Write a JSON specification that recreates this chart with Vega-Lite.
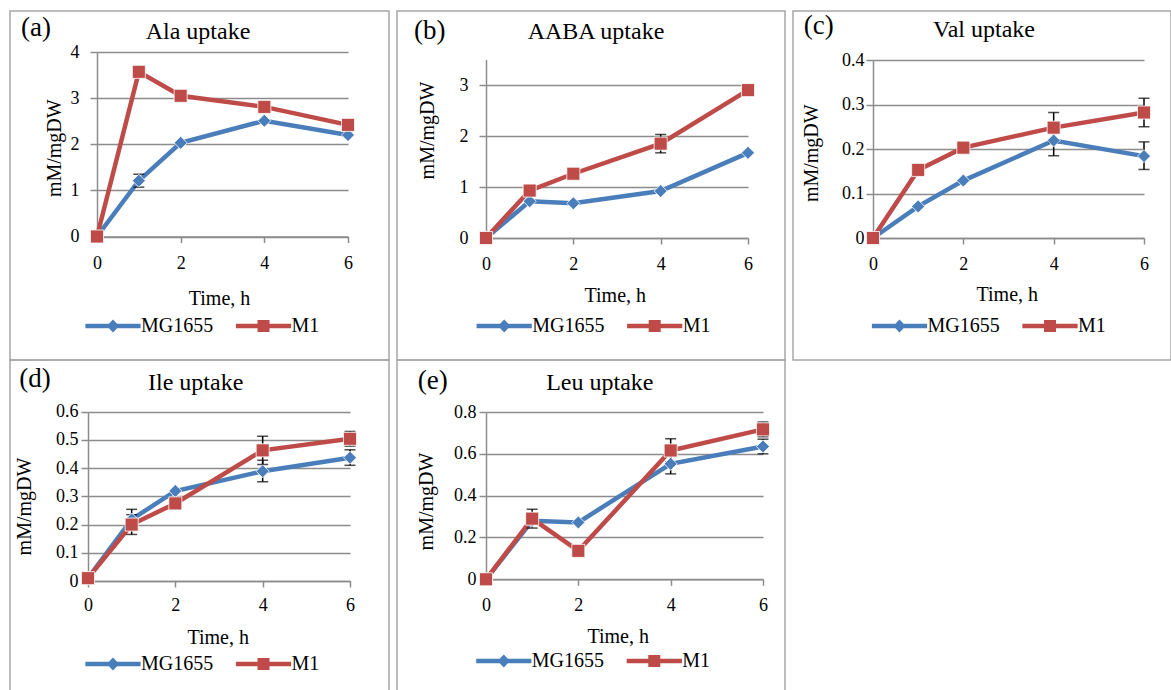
{
  "$schema": "https://vega.github.io/schema/vega-lite/v6.json",
  "padding": {"left": 9, "top": 10, "right": 0, "bottom": 0},
  "autosize": {"type": "pad"},
  "background": "white",
  "datasets": {
    "uptake": [
      {"panel": "a", "series": "MG1655", "t": 0, "v": 0},
      {"panel": "a", "series": "MG1655", "t": 1, "v": 1.21, "lo": 1.07, "hi": 1.35},
      {"panel": "a", "series": "MG1655", "t": 2, "v": 2.03},
      {"panel": "a", "series": "MG1655", "t": 4, "v": 2.51},
      {"panel": "a", "series": "MG1655", "t": 6, "v": 2.2},
      {"panel": "a", "series": "M1", "t": 0, "v": 0},
      {"panel": "a", "series": "M1", "t": 1, "v": 3.57, "lo": 3.48, "hi": 3.66},
      {"panel": "a", "series": "M1", "t": 2, "v": 3.05},
      {"panel": "a", "series": "M1", "t": 4, "v": 2.81},
      {"panel": "a", "series": "M1", "t": 6, "v": 2.42},
      {"panel": "b", "series": "MG1655", "t": 0, "v": 0},
      {"panel": "b", "series": "MG1655", "t": 1, "v": 0.72},
      {"panel": "b", "series": "MG1655", "t": 2, "v": 0.68},
      {"panel": "b", "series": "MG1655", "t": 4, "v": 0.92},
      {"panel": "b", "series": "MG1655", "t": 6, "v": 1.67},
      {"panel": "b", "series": "M1", "t": 0, "v": 0},
      {"panel": "b", "series": "M1", "t": 1, "v": 0.93},
      {"panel": "b", "series": "M1", "t": 2, "v": 1.26},
      {"panel": "b", "series": "M1", "t": 4, "v": 1.85, "lo": 1.67, "hi": 2.03},
      {"panel": "b", "series": "M1", "t": 6, "v": 2.9},
      {"panel": "c", "series": "MG1655", "t": 0, "v": 0},
      {"panel": "c", "series": "MG1655", "t": 1, "v": 0.071},
      {"panel": "c", "series": "MG1655", "t": 2, "v": 0.129},
      {"panel": "c", "series": "MG1655", "t": 4, "v": 0.219, "lo": 0.185, "hi": 0.253},
      {"panel": "c", "series": "MG1655", "t": 6, "v": 0.184, "lo": 0.154, "hi": 0.216},
      {"panel": "c", "series": "M1", "t": 0, "v": 0},
      {"panel": "c", "series": "M1", "t": 1, "v": 0.153},
      {"panel": "c", "series": "M1", "t": 2, "v": 0.203},
      {"panel": "c", "series": "M1", "t": 4, "v": 0.248, "lo": 0.214, "hi": 0.282},
      {"panel": "c", "series": "M1", "t": 6, "v": 0.282, "lo": 0.25, "hi": 0.314},
      {"panel": "d", "series": "MG1655", "t": 0, "v": 0.01},
      {"panel": "d", "series": "MG1655", "t": 1, "v": 0.218, "lo": 0.182, "hi": 0.254},
      {"panel": "d", "series": "MG1655", "t": 2, "v": 0.319},
      {"panel": "d", "series": "MG1655", "t": 4, "v": 0.389, "lo": 0.352, "hi": 0.428},
      {"panel": "d", "series": "MG1655", "t": 6, "v": 0.437, "lo": 0.41, "hi": 0.465},
      {"panel": "d", "series": "M1", "t": 0, "v": 0.01},
      {"panel": "d", "series": "M1", "t": 1, "v": 0.2, "lo": 0.165, "hi": 0.235},
      {"panel": "d", "series": "M1", "t": 2, "v": 0.275},
      {"panel": "d", "series": "M1", "t": 4, "v": 0.463, "lo": 0.413, "hi": 0.513},
      {"panel": "d", "series": "M1", "t": 6, "v": 0.504, "lo": 0.478, "hi": 0.53},
      {"panel": "e", "series": "MG1655", "t": 0, "v": 0},
      {"panel": "e", "series": "MG1655", "t": 1, "v": 0.28},
      {"panel": "e", "series": "MG1655", "t": 2, "v": 0.272},
      {"panel": "e", "series": "MG1655", "t": 4, "v": 0.552, "lo": 0.504, "hi": 0.6},
      {"panel": "e", "series": "MG1655", "t": 6, "v": 0.635, "lo": 0.6, "hi": 0.67},
      {"panel": "e", "series": "M1", "t": 0, "v": 0},
      {"panel": "e", "series": "M1", "t": 1, "v": 0.29, "lo": 0.245, "hi": 0.335},
      {"panel": "e", "series": "M1", "t": 2, "v": 0.136},
      {"panel": "e", "series": "M1", "t": 4, "v": 0.616, "lo": 0.56, "hi": 0.672},
      {"panel": "e", "series": "M1", "t": 6, "v": 0.717, "lo": 0.682, "hi": 0.752}
    ]
  },
  "data": {"name": "uptake"},
  "columns": 3,
  "align": "each",
  "bounds": "flush",
  "spacing": {"row": 0, "column": 8},
  "resolve": {"scale": {"color": "independent", "shape": "independent"}, "legend": {"color": "independent", "shape": "independent"}},
  "concat": [
    {
      "width": 379, "height": 349,
      "title": {"text": "(a)", "dx": 11, "offset": -31.4},
      "transform": [{"filter": "datum.panel === 'a'"}],
      "resolve": {"axis": {"x": "independent"}},
      "layer": [
        {"mark": {"type": "line", "strokeWidth": 4.5}, "encoding": {
          "x": {"field": "t", "type": "quantitative", "scale": {"domain": [0, 6], "range": [87, 338], "nice": false, "zero": false}, "axis": {"values": [0, 2, 4, 6], "title": "Time, h", "offset": -123.5, "titleX": 209, "titleY": 61.5, "labelPadding": 12}},
          "y": {"field": "v", "type": "quantitative", "title": "mM/mgDW", "scale": {"domain": [0, 4], "range": [225.5, 41], "nice": false, "zero": false}, "axis": {"values": [0, 1, 2, 3, 4], "format": "~g", "title": "mM/mgDW", "offset": -87, "titleX": -42.7, "titleY": 136.7, "labelPadding": 11}},
          "color": {"field": "series", "type": "nominal", "scale": {"domain": ["MG1655", "M1"], "range": ["#4a7ebb", "#be4b48"]}}}},
        {"transform": [{"filter": "isValid(datum.lo)"}], "mark": {"type": "rule", "color": "#000", "strokeWidth": 1.5}, "encoding": {"x": {"field": "t", "type": "quantitative", "axis": null}, "y": {"field": "lo", "type": "quantitative", "title": "mM/mgDW"}, "y2": {"field": "hi"}}},
        {"transform": [{"filter": "isValid(datum.lo)"}], "mark": {"type": "tick", "orient": "horizontal", "color": "#000", "size": 11, "thickness": 1.5}, "encoding": {"x": {"field": "t", "type": "quantitative", "axis": null}, "y": {"field": "lo", "type": "quantitative", "title": "mM/mgDW"}}},
        {"transform": [{"filter": "isValid(datum.lo)"}], "mark": {"type": "tick", "orient": "horizontal", "color": "#000", "size": 11, "thickness": 1.5}, "encoding": {"x": {"field": "t", "type": "quantitative", "axis": null}, "y": {"field": "hi", "type": "quantitative", "title": "mM/mgDW"}}},
        {"transform": [{"filter": "datum.series === 'MG1655'"}], "mark": {"type": "point", "shape": "diamond", "filled": true, "opacity": 1, "size": 170, "stroke": "#ffffff", "strokeWidth": 0.8}, "encoding": {
          "x": {"field": "t", "type": "quantitative", "axis": {"orient": "top", "title": "Ala uptake", "labels": false, "ticks": false, "domain": false, "grid": false, "titleX": 187.5, "titleY": 27.7, "titleBaseline": "alphabetic", "titleAlign": "center", "titleAngle": 0, "titleFontSize": 24}},
          "y": {"field": "v", "type": "quantitative", "title": "mM/mgDW"},
          "color": {"field": "series", "type": "nominal"}}},
        {"transform": [{"filter": "datum.series === 'M1'"}], "mark": {"type": "point", "shape": "square", "filled": true, "opacity": 1, "size": 170, "stroke": "#ffffff", "strokeWidth": 0.8}, "encoding": {
          "x": {"field": "t", "type": "quantitative", "axis": null},
          "y": {"field": "v", "type": "quantitative", "title": "mM/mgDW"},
          "color": {"field": "series", "type": "nominal"}}},
        {"transform": [{"filter": "false"}], "mark": {"type": "point", "filled": true, "opacity": 1, "size": 144}, "encoding": {
          "x": {"field": "t", "type": "quantitative", "axis": null},
          "y": {"field": "v", "type": "quantitative", "title": "mM/mgDW"},
          "color": {"field": "series", "type": "nominal", "legend": {"orient": "none", "legendX": 93, "legendY": 305, "direction": "horizontal", "title": null}},
          "shape": {"field": "series", "type": "nominal", "scale": {"domain": ["MG1655", "M1"], "range": ["M-4.6,-0.36H4.6V0.36H-4.6Z M0,-1.1L1.05,0L0,1.1L-1.05,0Z", "M-4.6,-0.36H4.6V0.36H-4.6Z M-1,-1H1V1H-1Z"]}, "legend": {"orient": "none", "legendX": 93, "legendY": 305, "direction": "horizontal", "title": null}}}}
      ]
    },
    {
      "width": 388, "height": 349,
      "title": {"text": "(b)", "dx": 17, "offset": -33.9},
      "transform": [{"filter": "datum.panel === 'b'"}],
      "resolve": {"axis": {"x": "independent"}},
      "layer": [
        {"mark": {"type": "line", "strokeWidth": 4.5}, "encoding": {
          "x": {"field": "t", "type": "quantitative", "scale": {"domain": [0, 6], "range": [89, 351], "nice": false, "zero": false}, "axis": {"values": [0, 2, 4, 6], "title": "Time, h", "offset": -122, "titleX": 217.8, "titleY": 57.3, "labelPadding": 11}},
          "y": {"field": "v", "type": "quantitative", "title": "mM/mgDW", "scale": {"domain": [0, 3.5], "range": [227, 48.5], "nice": false, "zero": false}, "axis": {"values": [0, 1, 2, 3], "format": "~g", "title": "mM/mgDW", "offset": -89, "titleX": -58.3, "titleY": 119, "labelPadding": 11}},
          "color": {"field": "series", "type": "nominal", "scale": {"domain": ["MG1655", "M1"], "range": ["#4a7ebb", "#be4b48"]}}}},
        {"transform": [{"filter": "isValid(datum.lo)"}], "mark": {"type": "rule", "color": "#000", "strokeWidth": 1.5}, "encoding": {"x": {"field": "t", "type": "quantitative", "axis": null}, "y": {"field": "lo", "type": "quantitative", "title": "mM/mgDW"}, "y2": {"field": "hi"}}},
        {"transform": [{"filter": "isValid(datum.lo)"}], "mark": {"type": "tick", "orient": "horizontal", "color": "#000", "size": 11, "thickness": 1.5}, "encoding": {"x": {"field": "t", "type": "quantitative", "axis": null}, "y": {"field": "lo", "type": "quantitative", "title": "mM/mgDW"}}},
        {"transform": [{"filter": "isValid(datum.lo)"}], "mark": {"type": "tick", "orient": "horizontal", "color": "#000", "size": 11, "thickness": 1.5}, "encoding": {"x": {"field": "t", "type": "quantitative", "axis": null}, "y": {"field": "hi", "type": "quantitative", "title": "mM/mgDW"}}},
        {"transform": [{"filter": "datum.series === 'MG1655'"}], "mark": {"type": "point", "shape": "diamond", "filled": true, "opacity": 1, "size": 170, "stroke": "#ffffff", "strokeWidth": 0.8}, "encoding": {
          "x": {"field": "t", "type": "quantitative", "axis": {"orient": "top", "title": "AABA uptake", "labels": false, "ticks": false, "domain": false, "grid": false, "titleX": 198.5, "titleY": 27.3, "titleBaseline": "alphabetic", "titleAlign": "center", "titleAngle": 0, "titleFontSize": 24}},
          "y": {"field": "v", "type": "quantitative", "title": "mM/mgDW"},
          "color": {"field": "series", "type": "nominal"}}},
        {"transform": [{"filter": "datum.series === 'M1'"}], "mark": {"type": "point", "shape": "square", "filled": true, "opacity": 1, "size": 170, "stroke": "#ffffff", "strokeWidth": 0.8}, "encoding": {
          "x": {"field": "t", "type": "quantitative", "axis": null},
          "y": {"field": "v", "type": "quantitative", "title": "mM/mgDW"},
          "color": {"field": "series", "type": "nominal"}}},
        {"transform": [{"filter": "false"}], "mark": {"type": "point", "filled": true, "opacity": 1, "size": 144}, "encoding": {
          "x": {"field": "t", "type": "quantitative", "axis": null},
          "y": {"field": "v", "type": "quantitative", "title": "mM/mgDW"},
          "color": {"field": "series", "type": "nominal", "legend": {"orient": "none", "legendX": 97.2, "legendY": 305, "direction": "horizontal", "title": null}},
          "shape": {"field": "series", "type": "nominal", "scale": {"domain": ["MG1655", "M1"], "range": ["M-4.6,-0.36H4.6V0.36H-4.6Z M0,-1.1L1.05,0L0,1.1L-1.05,0Z", "M-4.6,-0.36H4.6V0.36H-4.6Z M-1,-1H1V1H-1Z"]}, "legend": {"orient": "none", "legendX": 97.2, "legendY": 305, "direction": "horizontal", "title": null}}}}
      ]
    },
    {
      "width": 378, "height": 349,
      "title": {"text": "(c)", "dx": 10.7, "offset": -28.9},
      "transform": [{"filter": "datum.panel === 'c'"}],
      "resolve": {"axis": {"x": "independent"}},
      "layer": [
        {"mark": {"type": "line", "strokeWidth": 4.5}, "encoding": {
          "x": {"field": "t", "type": "quantitative", "scale": {"domain": [0, 6], "range": [80, 351], "nice": false, "zero": false}, "axis": {"values": [0, 2, 4, 6], "title": "Time, h", "offset": -122, "titleX": 213.8, "titleY": 56.3, "labelPadding": 11}},
          "y": {"field": "v", "type": "quantitative", "title": "mM/mgDW", "scale": {"domain": [0, 0.4], "range": [227, 49], "nice": false, "zero": false}, "axis": {"values": [0, 0.1, 0.2, 0.3, 0.4], "format": "~g", "title": "mM/mgDW", "offset": -80, "titleX": -62, "titleY": 141.7, "labelPadding": 2}},
          "color": {"field": "series", "type": "nominal", "scale": {"domain": ["MG1655", "M1"], "range": ["#4a7ebb", "#be4b48"]}}}},
        {"transform": [{"filter": "isValid(datum.lo)"}], "mark": {"type": "rule", "color": "#000", "strokeWidth": 1.5}, "encoding": {"x": {"field": "t", "type": "quantitative", "axis": null}, "y": {"field": "lo", "type": "quantitative", "title": "mM/mgDW"}, "y2": {"field": "hi"}}},
        {"transform": [{"filter": "isValid(datum.lo)"}], "mark": {"type": "tick", "orient": "horizontal", "color": "#000", "size": 11, "thickness": 1.5}, "encoding": {"x": {"field": "t", "type": "quantitative", "axis": null}, "y": {"field": "lo", "type": "quantitative", "title": "mM/mgDW"}}},
        {"transform": [{"filter": "isValid(datum.lo)"}], "mark": {"type": "tick", "orient": "horizontal", "color": "#000", "size": 11, "thickness": 1.5}, "encoding": {"x": {"field": "t", "type": "quantitative", "axis": null}, "y": {"field": "hi", "type": "quantitative", "title": "mM/mgDW"}}},
        {"transform": [{"filter": "datum.series === 'MG1655'"}], "mark": {"type": "point", "shape": "diamond", "filled": true, "opacity": 1, "size": 170, "stroke": "#ffffff", "strokeWidth": 0.8}, "encoding": {
          "x": {"field": "t", "type": "quantitative", "axis": {"orient": "top", "title": "Val uptake", "labels": false, "ticks": false, "domain": false, "grid": false, "titleX": 190.5, "titleY": 25, "titleBaseline": "alphabetic", "titleAlign": "center", "titleAngle": 0, "titleFontSize": 24}},
          "y": {"field": "v", "type": "quantitative", "title": "mM/mgDW"},
          "color": {"field": "series", "type": "nominal"}}},
        {"transform": [{"filter": "datum.series === 'M1'"}], "mark": {"type": "point", "shape": "square", "filled": true, "opacity": 1, "size": 170, "stroke": "#ffffff", "strokeWidth": 0.8}, "encoding": {
          "x": {"field": "t", "type": "quantitative", "axis": null},
          "y": {"field": "v", "type": "quantitative", "title": "mM/mgDW"},
          "color": {"field": "series", "type": "nominal"}}},
        {"transform": [{"filter": "false"}], "mark": {"type": "point", "filled": true, "opacity": 1, "size": 144}, "encoding": {
          "x": {"field": "t", "type": "quantitative", "axis": null},
          "y": {"field": "v", "type": "quantitative", "title": "mM/mgDW"},
          "color": {"field": "series", "type": "nominal", "legend": {"orient": "none", "legendX": 96.5, "legendY": 305, "direction": "horizontal", "title": null}},
          "shape": {"field": "series", "type": "nominal", "scale": {"domain": ["MG1655", "M1"], "range": ["M-4.6,-0.36H4.6V0.36H-4.6Z M0,-1.1L1.05,0L0,1.1L-1.05,0Z", "M-4.6,-0.36H4.6V0.36H-4.6Z M-1,-1H1V1H-1Z"]}, "legend": {"orient": "none", "legendX": 96.5, "legendY": 305, "direction": "horizontal", "title": null}}}}
      ]
    },
    {
      "width": 379, "height": 345,
      "title": {"text": "(d)", "dx": 9.3, "offset": -33.2},
      "transform": [{"filter": "datum.panel === 'd'"}],
      "resolve": {"axis": {"x": "independent"}},
      "layer": [
        {"mark": {"type": "line", "strokeWidth": 4.5}, "encoding": {
          "x": {"field": "t", "type": "quantitative", "scale": {"domain": [0, 6], "range": [78, 340], "nice": false, "zero": false}, "axis": {"values": [0, 2, 4, 6], "title": "Time, h", "offset": -124, "titleX": 207.7, "titleY": 56.7, "labelPadding": 9}},
          "y": {"field": "v", "type": "quantitative", "title": "mM/mgDW", "scale": {"domain": [0, 0.6], "range": [221, 51.7], "nice": false, "zero": false}, "axis": {"values": [0, 0.1, 0.2, 0.3, 0.4, 0.5, 0.6], "format": "~g", "title": "mM/mgDW", "offset": -78, "titleX": -63.7, "titleY": 146, "labelPadding": 3}},
          "color": {"field": "series", "type": "nominal", "scale": {"domain": ["MG1655", "M1"], "range": ["#4a7ebb", "#be4b48"]}}}},
        {"transform": [{"filter": "isValid(datum.lo)"}], "mark": {"type": "rule", "color": "#000", "strokeWidth": 1.5}, "encoding": {"x": {"field": "t", "type": "quantitative", "axis": null}, "y": {"field": "lo", "type": "quantitative", "title": "mM/mgDW"}, "y2": {"field": "hi"}}},
        {"transform": [{"filter": "isValid(datum.lo)"}], "mark": {"type": "tick", "orient": "horizontal", "color": "#000", "size": 11, "thickness": 1.5}, "encoding": {"x": {"field": "t", "type": "quantitative", "axis": null}, "y": {"field": "lo", "type": "quantitative", "title": "mM/mgDW"}}},
        {"transform": [{"filter": "isValid(datum.lo)"}], "mark": {"type": "tick", "orient": "horizontal", "color": "#000", "size": 11, "thickness": 1.5}, "encoding": {"x": {"field": "t", "type": "quantitative", "axis": null}, "y": {"field": "hi", "type": "quantitative", "title": "mM/mgDW"}}},
        {"transform": [{"filter": "datum.series === 'MG1655'"}], "mark": {"type": "point", "shape": "diamond", "filled": true, "opacity": 1, "size": 170, "stroke": "#ffffff", "strokeWidth": 0.8}, "encoding": {
          "x": {"field": "t", "type": "quantitative", "axis": {"orient": "top", "title": "Ile uptake", "labels": false, "ticks": false, "domain": false, "grid": false, "titleX": 185.2, "titleY": 29.3, "titleBaseline": "alphabetic", "titleAlign": "center", "titleAngle": 0, "titleFontSize": 24}},
          "y": {"field": "v", "type": "quantitative", "title": "mM/mgDW"},
          "color": {"field": "series", "type": "nominal"}}},
        {"transform": [{"filter": "datum.series === 'M1'"}], "mark": {"type": "point", "shape": "square", "filled": true, "opacity": 1, "size": 170, "stroke": "#ffffff", "strokeWidth": 0.8}, "encoding": {
          "x": {"field": "t", "type": "quantitative", "axis": null},
          "y": {"field": "v", "type": "quantitative", "title": "mM/mgDW"},
          "color": {"field": "series", "type": "nominal"}}},
        {"transform": [{"filter": "false"}], "mark": {"type": "point", "filled": true, "opacity": 1, "size": 144}, "encoding": {
          "x": {"field": "t", "type": "quantitative", "axis": null},
          "y": {"field": "v", "type": "quantitative", "title": "mM/mgDW"},
          "color": {"field": "series", "type": "nominal", "legend": {"orient": "none", "legendX": 93, "legendY": 294, "direction": "horizontal", "title": null}},
          "shape": {"field": "series", "type": "nominal", "scale": {"domain": ["MG1655", "M1"], "range": ["M-4.6,-0.36H4.6V0.36H-4.6Z M0,-1.1L1.05,0L0,1.1L-1.05,0Z", "M-4.6,-0.36H4.6V0.36H-4.6Z M-1,-1H1V1H-1Z"]}, "legend": {"orient": "none", "legendX": 93, "legendY": 294, "direction": "horizontal", "title": null}}}}
      ]
    },
    {
      "width": 388, "height": 345,
      "title": {"text": "(e)", "dx": 20.7, "offset": -34.7},
      "transform": [{"filter": "datum.panel === 'e'"}],
      "resolve": {"axis": {"x": "independent"}},
      "layer": [
        {"mark": {"type": "line", "strokeWidth": 4.5}, "encoding": {
          "x": {"field": "t", "type": "quantitative", "scale": {"domain": [0, 6], "range": [89, 366], "nice": false, "zero": false}, "axis": {"values": [0, 2, 4, 6], "title": "Time, h", "offset": -125.7, "titleX": 220.7, "titleY": 56.7, "labelPadding": 11}},
          "y": {"field": "v", "type": "quantitative", "title": "mM/mgDW", "scale": {"domain": [0, 0.8], "range": [219.3, 52], "nice": false, "zero": false}, "axis": {"values": [0, 0.2, 0.4, 0.6, 0.8], "format": "~g", "title": "mM/mgDW", "offset": -89, "titleX": -60, "titleY": 141, "labelPadding": 3}},
          "color": {"field": "series", "type": "nominal", "scale": {"domain": ["MG1655", "M1"], "range": ["#4a7ebb", "#be4b48"]}}}},
        {"transform": [{"filter": "isValid(datum.lo)"}], "mark": {"type": "rule", "color": "#000", "strokeWidth": 1.5}, "encoding": {"x": {"field": "t", "type": "quantitative", "axis": null}, "y": {"field": "lo", "type": "quantitative", "title": "mM/mgDW"}, "y2": {"field": "hi"}}},
        {"transform": [{"filter": "isValid(datum.lo)"}], "mark": {"type": "tick", "orient": "horizontal", "color": "#000", "size": 11, "thickness": 1.5}, "encoding": {"x": {"field": "t", "type": "quantitative", "axis": null}, "y": {"field": "lo", "type": "quantitative", "title": "mM/mgDW"}}},
        {"transform": [{"filter": "isValid(datum.lo)"}], "mark": {"type": "tick", "orient": "horizontal", "color": "#000", "size": 11, "thickness": 1.5}, "encoding": {"x": {"field": "t", "type": "quantitative", "axis": null}, "y": {"field": "hi", "type": "quantitative", "title": "mM/mgDW"}}},
        {"transform": [{"filter": "datum.series === 'MG1655'"}], "mark": {"type": "point", "shape": "diamond", "filled": true, "opacity": 1, "size": 170, "stroke": "#ffffff", "strokeWidth": 0.8}, "encoding": {
          "x": {"field": "t", "type": "quantitative", "axis": {"orient": "top", "title": "Leu uptake", "labels": false, "ticks": false, "domain": false, "grid": false, "titleX": 202.3, "titleY": 29.3, "titleBaseline": "alphabetic", "titleAlign": "center", "titleAngle": 0, "titleFontSize": 24}},
          "y": {"field": "v", "type": "quantitative", "title": "mM/mgDW"},
          "color": {"field": "series", "type": "nominal"}}},
        {"transform": [{"filter": "datum.series === 'M1'"}], "mark": {"type": "point", "shape": "square", "filled": true, "opacity": 1, "size": 170, "stroke": "#ffffff", "strokeWidth": 0.8}, "encoding": {
          "x": {"field": "t", "type": "quantitative", "axis": null},
          "y": {"field": "v", "type": "quantitative", "title": "mM/mgDW"},
          "color": {"field": "series", "type": "nominal"}}},
        {"transform": [{"filter": "false"}], "mark": {"type": "point", "filled": true, "opacity": 1, "size": 144}, "encoding": {
          "x": {"field": "t", "type": "quantitative", "axis": null},
          "y": {"field": "v", "type": "quantitative", "title": "mM/mgDW"},
          "color": {"field": "series", "type": "nominal", "legend": {"orient": "none", "legendX": 96.8, "legendY": 291, "direction": "horizontal", "title": null}},
          "shape": {"field": "series", "type": "nominal", "scale": {"domain": ["MG1655", "M1"], "range": ["M-4.6,-0.36H4.6V0.36H-4.6Z M0,-1.1L1.05,0L0,1.1L-1.05,0Z", "M-4.6,-0.36H4.6V0.36H-4.6Z M-1,-1H1V1H-1Z"]}, "legend": {"orient": "none", "legendX": 96.8, "legendY": 291, "direction": "horizontal", "title": null}}}}
      ]
    }
  ],
  "config": {
    "font": "Liberation Serif",
    "view": {"stroke": "#a6a6a6", "strokeWidth": 1.5},
    "axis": {"domainColor": "#8c8c8c", "domainWidth": 1.5, "tickColor": "#8c8c8c", "tickWidth": 1.5, "gridColor": "#8c8c8c", "gridWidth": 1.5, "gridOpacity": 1, "labelFont": "Liberation Serif", "labelFontSize": 18, "labelColor": "#000", "titleFont": "Liberation Serif", "titleFontSize": 20, "titleFontWeight": "normal", "titleColor": "#000", "titleBaseline": "middle", "labelFlush": false, "labelOverlap": false},
    "axisX": {"grid": false, "tickSize": 6},
    "axisY": {"grid": true, "tickSize": 7},
    "legend": {"labelFont": "Liberation Serif", "labelFontSize": 20, "labelColor": "#000", "symbolSize": 144, "symbolStrokeWidth": 0, "symbolOpacity": 1, "labelOffset": 18, "columnPadding": 21.5, "padding": 0, "rowPadding": 0},
    "title": {"font": "Liberation Serif", "fontSize": 27, "fontWeight": "normal", "color": "#000", "anchor": "start", "frame": "group"}
  }
}
